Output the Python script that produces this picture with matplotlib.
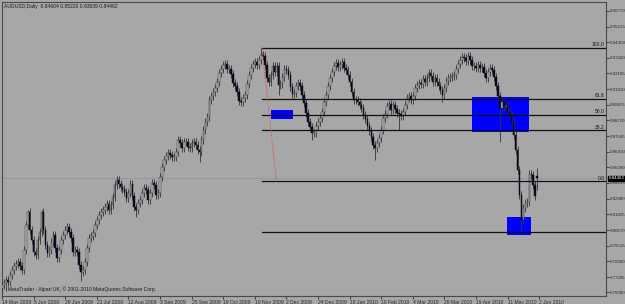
import matplotlib
matplotlib.use("Agg")
import matplotlib.pyplot as plt
import matplotlib.transforms as mtransforms
from matplotlib.patches import Rectangle

plt.rcParams["font.family"] = ["Liberation Sans Narrow", "Liberation Sans", "DejaVu Sans"]

# AUDUSD daily closes, 14 May 2009 .. 2 Jun 2010
closes = [
    0.7663, 0.7678, 0.7700, 0.7685, 0.7736, 0.7773, 0.7803, 0.7818, 0.7832, 0.7803,
    0.7773, 0.7920, 0.8104, 0.8199, 0.8067, 0.7994, 0.7905, 0.7883, 0.7994, 0.8052,
    0.8199, 0.8067, 0.7957, 0.7898, 0.7920, 0.7979, 0.8030, 0.7935, 0.7861, 0.7920,
    0.7994, 0.8030, 0.8067, 0.8089, 0.8052, 0.8008, 0.7905, 0.7920, 0.7905, 0.7810,
    0.7759, 0.7773, 0.7832, 0.7935, 0.8008, 0.8023, 0.8045, 0.8104, 0.8141, 0.8177,
    0.8199, 0.8214, 0.8236, 0.8258, 0.8214, 0.8251, 0.8310, 0.8398, 0.8435, 0.8405,
    0.8383, 0.8369, 0.8346, 0.8302, 0.8339, 0.8405, 0.8317, 0.8236, 0.8214, 0.8266,
    0.8288, 0.8339, 0.8376, 0.8361, 0.8288, 0.8339, 0.8413, 0.8398, 0.8324, 0.8339,
    0.8457, 0.8531, 0.8582, 0.8611, 0.8633, 0.8618, 0.8604, 0.8604, 0.8640, 0.8729,
    0.8707, 0.8670, 0.8714, 0.8714, 0.8677, 0.8670, 0.8707, 0.8714, 0.8692, 0.8655,
    0.8640, 0.8729, 0.8802, 0.8861, 0.8898, 0.9023, 0.9052, 0.9082, 0.9111, 0.9155,
    0.9222, 0.9251, 0.9280, 0.9288, 0.9251, 0.9251, 0.9214, 0.9148, 0.9126, 0.9082,
    0.9016, 0.9008, 0.9038, 0.9060, 0.9141, 0.9207, 0.9258, 0.9288, 0.9302, 0.9280,
    0.9317, 0.9354, 0.9346, 0.9280, 0.9185, 0.9155, 0.9207, 0.9273, 0.9229, 0.9273,
    0.9133, 0.9141, 0.9192, 0.9251, 0.9243, 0.9207, 0.9119, 0.9067, 0.9074, 0.9126,
    0.9148, 0.9126, 0.9060, 0.9001, 0.8927, 0.8861, 0.8825, 0.8780, 0.8780, 0.8832,
    0.8861, 0.8890, 0.8935, 0.9008, 0.9060, 0.9126, 0.9185, 0.9229, 0.9273, 0.9295,
    0.9266, 0.9280, 0.9302, 0.9258, 0.9243, 0.9207, 0.9155, 0.9082, 0.9023, 0.9023,
    0.9008, 0.8986, 0.8964, 0.8913, 0.8883, 0.8832, 0.8795, 0.8751, 0.8692, 0.8670,
    0.8707, 0.8744, 0.8802, 0.8890, 0.8920, 0.8979, 0.8993, 0.8949, 0.8986, 0.8957,
    0.8927, 0.8920, 0.8905, 0.8935, 0.8986, 0.9038, 0.9052, 0.9023, 0.9052, 0.9111,
    0.9133, 0.9148, 0.9141, 0.9177, 0.9155, 0.9185, 0.9222, 0.9199, 0.9155, 0.9185,
    0.9155, 0.9126, 0.9096, 0.9060, 0.9111, 0.9163, 0.9185, 0.9192, 0.9199, 0.9207,
    0.9251, 0.9288, 0.9317, 0.9339, 0.9332, 0.9310, 0.9346, 0.9317, 0.9273, 0.9273,
    0.9258, 0.9280, 0.9258, 0.9266, 0.9222, 0.9185, 0.9229, 0.9258, 0.9243, 0.9192,
    0.9126, 0.9052, 0.8964, 0.9008, 0.8971, 0.8979, 0.8935, 0.8913, 0.8861, 0.8766,
    0.8655, 0.8508, 0.8324, 0.8141, 0.8229, 0.8266, 0.8273, 0.8479, 0.8472, 0.8398,
    0.8317, 0.84462,
]
first_open = 0.7640
last_ohlc = (0.84604, 0.85220, 0.83639, 0.84462)
wick = 0.0030
high_marks = {13: 0.8214, 20: 0.8214, 131: 0.9405, 236: 0.9376}
low_marks = {2: 0.7620, 40: 0.7690, 68: 0.8163, 100: 0.8567, 140: 0.9060,
             157: 0.8729, 189: 0.8582, 201: 0.8802, 223: 0.9008, 252: 0.8714,
             263: 0.8052}

date_labels = ["14 May 2009", "5 Jun 2009", "29 Jun 2009", "21 Jul 2009", "12 Aug 2009",
               "3 Sep 2009", "25 Sep 2009", "19 Oct 2009", "10 Nov 2009", "2 Dec 2009",
               "24 Dec 2009", "19 Jan 2010", "10 Feb 2010", "4 Mar 2010", "26 Mar 2010",
               "19 Apr 2010", "11 May 2010", "2 Jun 2010"]
bars_per_label = 16

price_labels = ["0.96770", "0.95615", "0.94460", "0.93340", "0.92185", "0.91030",
                "0.89875", "0.88720", "0.87565", "0.86410", "0.85290", "0.84135",
                "0.82980", "0.81825", "0.80670", "0.79515", "0.78360", "0.77205",
                "0.76080"]

# fibonacci retracement drawn on the chart
fib_high = 0.9405
fib_low = 0.8424
fib_levels = [0.0, 38.2, 50.0, 61.8, 100.0]
fib_start = 131.6
fib_end = 139.0
support_level = 0.8049

# blue boxes (bar from, bar to, price low, price high)
boxes = [(136.2, 147.3, 0.8883, 0.8949),
         (238.0, 266.8, 0.8788, 0.9045),
         (255.7, 267.8, 0.8030, 0.8163)]

bg = "#a7a7a7"
fs = 3.6
fs_axis = 3.2
fig = plt.figure(figsize=(6.25, 3.04), dpi=100, facecolor=bg)
ax = fig.add_axes([2 / 625, 8 / 304, 604 / 625, 294 / 304], facecolor=bg)

opens = [first_open] + closes[:-1]
opens[-1] = last_ohlc[0]
n = len(closes)
for i in range(n):
    o, c = opens[i], closes[i]
    h = high_marks.get(i, max(o, c) + wick)
    l = low_marks.get(i, min(o, c) - wick)
    if i == n - 1:
        h, l = last_ohlc[1], last_ohlc[2]
    up = c >= o
    ax.vlines(i, l, h, color="#333333", lw=0.6, zorder=3)
    body = max(abs(c - o), 0.0004)
    ax.bar(i, body, bottom=min(o, c), width=0.85,
           color="#b4b4b4" if up else "#0a0a1e",
           edgecolor="#3e3e3e" if up else "#0a0a1e", lw=0.35, zorder=4)

for x0, x1, p0, p1 in boxes:
    ax.add_patch(Rectangle((x0, p0), x1 - x0, p1 - p0, color="#0000ff", lw=0, zorder=2))

xmax = 305.8
# bid line
ax.axhline(last_ohlc[3], color="#8b9aa8", lw=0.7, zorder=1)

for lvl in fib_levels:
    p = fib_low + lvl / 100 * (fib_high - fib_low)
    ax.plot([fib_start, xmax], [p, p], color="#111111", lw=0.9, zorder=5)
    ax.text(xmax - 0.8, p + 0.0004, f"{lvl:.1f}", ha="right", va="bottom",
            fontsize=fs, color="#111111", zorder=6)
ax.plot([fib_start, xmax], [support_level] * 2, color="#111111", lw=0.9, zorder=5)
ax.plot([fib_start, fib_end], [fib_high, fib_low], color="#ff3030", lw=0.7,
        ls=(0, (1, 1.5)), zorder=5)

ax.set_xlim(0, xmax)
ax.set_ylim(0.7582, 0.9743)

ax.yaxis.tick_right()
ax.set_yticks([float(s) for s in price_labels])
ax.set_yticklabels(price_labels)
ax.tick_params(axis="y", length=2.0, width=0.6, pad=0.8, labelsize=fs_axis,
               colors="#2a2a2a")
ax.set_xticks(range(0, bars_per_label * len(date_labels), bars_per_label))
ax.set_xticklabels(date_labels)
for lab in ax.get_xticklabels():
    lab.set_ha("left")
ax.tick_params(axis="x", length=2.0, width=0.6, pad=0.8, labelsize=fs,
               colors="#2a2a2a")

trans = mtransforms.blended_transform_factory(ax.transAxes, ax.transData)
ax.text(1.0045, last_ohlc[3], f"{last_ohlc[3]:.5f}", transform=trans, ha="left",
        va="center", fontsize=fs_axis, color="white", zorder=7,
        bbox=dict(boxstyle="square,pad=0.1", fc="black", ec="black"), clip_on=False)

ax.text(0.004, 0.992, "AUDUSD,Daily  0.84604 0.85220 0.83639 0.84462",
        transform=ax.transAxes, ha="left", va="top", fontsize=fs, color="#1a1a1a")
ax.text(0.01, 0.012, "MetaTrader - Alpari UK, \u00a9 2001-2010 MetaQuotes Software Corp.",
        transform=ax.transAxes, ha="left", va="bottom", fontsize=fs, color="#1a1a1a")

for s in ax.spines.values():
    s.set_color("#4a4a4a")
    s.set_linewidth(0.8)

fig.savefig("out.png", dpi=100, facecolor=bg)
